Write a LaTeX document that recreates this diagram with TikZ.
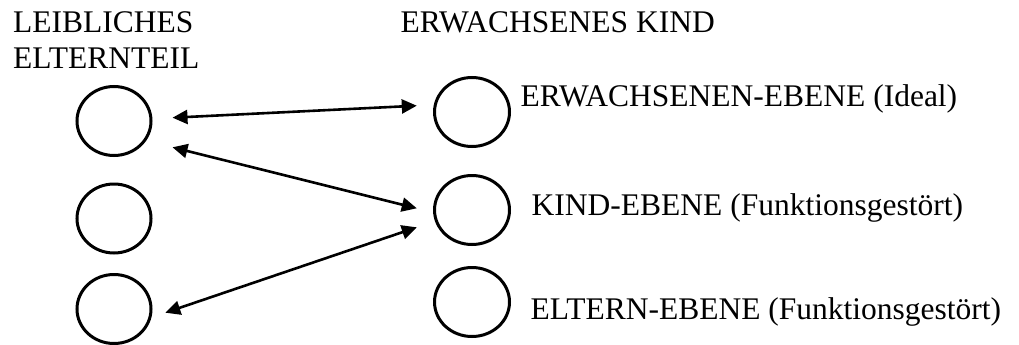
\documentclass[tikz,border=0pt]{standalone}
\usepackage{fontspec}
\setmainfont{Liberation Serif}
\usetikzlibrary{arrows.meta,shapes.geometric,calc}
\begin{document}
\begin{tikzpicture}[x=1pt,y=-1pt,
  level/.style={ellipse,draw,line width=3pt,inner sep=0pt,
                minimum width=74pt,minimum height=69pt},
  label/.style={inner sep=0pt,anchor=base west,
                font=\fontsize{31.5pt}{36pt}\selectfont},
  link/.style={line width=2.6pt,
               {Triangle[length=15pt,width=14pt]}-{Triangle[length=15pt,width=14pt]}}]
\useasboundingbox (0,0) rectangle (1019,345);

% column headings
\node[label] (hparent1) at (13,32.3) {LEIBLICHES};
\node[label] (hparent2) at (13,68.3) {ELTERNTEIL};
\node[label] (hchild) at (400.5,32.3) {ERWACHSENES KIND};

% parent ego states
\node[level] (p1) at (114,121) {};
\node[level] (p2) at (114,218.5) {};
\node[level] (p3) at (114,309) {};

% adult child ego states
\node[level,minimum width=75pt] (c1) at (472,112) {};
\node[level,minimum width=75pt] (c2) at (472,210) {};
\node[level,minimum width=75pt] (c3) at (472,302) {};

% level descriptions
\node[label] (t1) at (520.5,106) {ERWACHSENEN-EBENE (Ideal)};
\node[label] (t2) at (531.5,215) {KIND-EBENE (Funktionsgestört)};
\node[label] (t3) at (530.5,319.3) {ELTERN-EBENE (Funktionsgestört)};

% transactions
\draw[link] ($(p1.east)+(20,-3.3)$) -- ($(c1.west)+(-16.2,-6.3)$);
\draw[link] ($(p1.east)+(20,26.3)$) -- ($(c2.west)+(-16.2,-1.7)$);
\draw[link] ($(p3.east)+(12.8,3.7)$) -- ($(c2.west)+(-16.2,17.3)$);
\end{tikzpicture}
\end{document}
